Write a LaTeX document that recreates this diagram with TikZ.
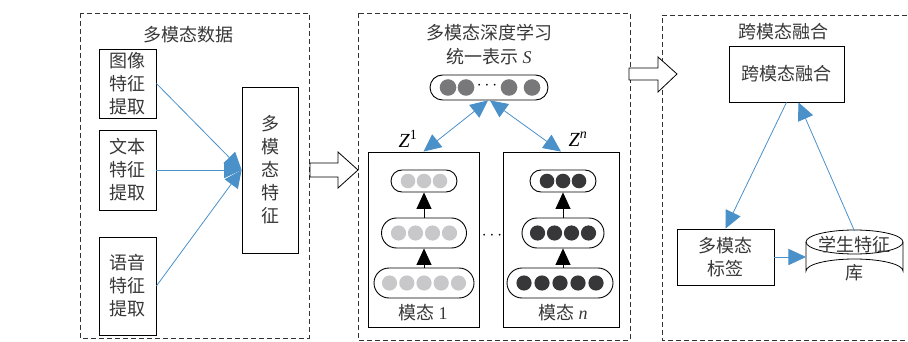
\documentclass[tikz,border=0pt]{standalone}
\usepackage{fontspec}
\setmainfont{Liberation Serif}
\newfontfamily\cjk{Noto Sans CJK SC}
\usetikzlibrary{arrows.meta,calc}
\definecolor{ablue}{RGB}{74,144,201}
\definecolor{txt}{RGB}{55,55,55}
\definecolor{cS}{RGB}{120,120,122}
\definecolor{cA}{RGB}{200,200,202}
\definecolor{cB}{RGB}{55,55,58}
\begin{document}
\begin{tikzpicture}[x=1pt,y=-1pt,
  dbox/.style={draw=black!80, dash pattern=on 5pt off 3pt, line width=0.8pt},
  box/.style={draw, line width=0.8pt, inner sep=0pt, align=center, text=txt,
    font=\cjk\fontsize{18}{23}\selectfont},
  ttl/.style={inner sep=0pt, text=txt, font=\cjk\fontsize{18}{22}\selectfont},
  pill/.style={draw, line width=0.9pt, inner sep=0pt},
  bhead/.tip={Triangle[length=13pt,width=12pt,scale=1.35]},
  khead/.tip={Triangle[length=11pt,width=10pt,scale=1.5]},
  barrow/.style={draw=ablue, line width=0.8pt, -bhead},
  bdarrow/.style={draw=ablue, line width=0.8pt, bhead-bhead},
  karrow/.style={draw, line width=0.8pt, -khead},
  hollow/.style={draw, line width=0.8pt, fill=white}
]
\useasboundingbox (0,0) rectangle (908,342);

% dashed frames
\draw[dbox] (80,13) rectangle (309,338);
\draw[dbox] (358,13) rectangle (630,340);
\draw[dbox] (915,15) -- (662,15) -- (662,340) -- (915,340);

% ---------- left panel ----------
\node[ttl] (t1) at (188,35) {多模态数据};
\node[box, minimum width=57, minimum height=69] (b1) at (127.5,83.5) {图像\\特征\\提取};
\node[box, minimum width=57, minimum height=80] (b2) at (127.5,170) {文本\\特征\\提取};
\node[box, minimum width=57, minimum height=98] (b3) at (127.5,286) {语音\\特征\\提取};
\node[box, minimum width=56, minimum height=166] (mf) at (270,170) {多\\模\\态\\特\\征};
\draw[barrow] (b1.east) -- (mf.west);
\draw[barrow] (b2.east) -- (mf.west);
\draw[barrow] (b3.east) -- (mf.west);

% hollow arrow 1
\draw[hollow] (310,163) -- (338,163) -- (338,152) -- (358,170) -- (338,188) -- (338,177) -- (310,177) -- cycle;

% ---------- middle panel ----------
\node[ttl] (t2) at (489,33) {多模态深度学习};
\node[ttl] (t3) at (489,57) {统一表示 {\rmfamily\itshape S}};
\node[pill, minimum width=118, minimum height=25, rounded corners=12.5] (sp) at (489,87.5) {};
\foreach \x in {448,466,509,532} \fill[cS] (\x,87.5) circle (8.3);
\node[inner sep=0pt, font=\fontsize{18}{20}\selectfont] (sdots) at (487,86) {$\cdots$};

\node[draw, line width=0.8pt, minimum width=111, minimum height=175] (m1) at (423.5,239.5) {};
\node[draw, line width=0.8pt, minimum width=116, minimum height=175] (mn) at (561,239.5) {};

\draw[bdarrow] ([xshift=-1pt]sp.south) -- (m1.north);
\draw[bdarrow] ([xshift=1pt]sp.south) -- (mn.north);
\node[inner sep=0pt, font=\fontsize{20}{22}\selectfont] (z1) at (408,139) {\itshape Z\textsuperscript{\upshape 1}};
\node[inner sep=0pt, font=\fontsize{20}{22}\selectfont] (zn) at (578,139) {\itshape Z\textsuperscript{n}};

% modality 1 stack
\node[pill, minimum width=66, minimum height=22, rounded corners=11] (a3) at (424,181) {};
\node[pill, minimum width=85, minimum height=30, rounded corners=15] (a2) at (424,233) {};
\node[pill, minimum width=100, minimum height=30, rounded corners=15] (a1) at (424,283) {};
\foreach \d in {-16,0,16} \fill[cA] (424+\d,181) circle (7.3);
\foreach \d in {-25.5,-8.5,8.5,25.5} \fill[cA] (424+\d,233) circle (7.6);
\foreach \d in {-34.5,-17.2,0,17.2,34.5} \fill[cA] (424+\d,283) circle (7.6);
\draw[karrow] (a1.north) -- (a2.south);
\draw[karrow] (a2.north) -- (a3.south);
\node[ttl] (l1) at (423,313) {模态 {\rmfamily 1}};

% modality n stack
\node[pill, minimum width=66, minimum height=22, rounded corners=11] (c3) at (563,181) {};
\node[pill, minimum width=82, minimum height=30, rounded corners=15] (c2) at (563,233) {};
\node[pill, minimum width=106, minimum height=30, rounded corners=15] (c1) at (560,283) {};
\foreach \d in {-16,0,16} \fill[cB] (563+\d,181) circle (7.3);
\foreach \d in {-25.5,-8.5,8.5,25.5} \fill[cB] (563+\d,233) circle (7.6);
\foreach \d in {-36,-18,0,18,36} \fill[cB] (560+\d,283) circle (7.6);
\draw[karrow] (c1.north -| c2.south) -- (c2.south);
\draw[karrow] (c2.north) -- (c3.south);
\node[ttl] (ln) at (563,313) {模态 {\rmfamily\itshape n}};

\node[inner sep=0pt, font=\fontsize{18}{20}\selectfont] (mdots) at (492,236) {$\cdots$};

% hollow arrow 2
\draw[hollow] (629,68) -- (658,68) -- (658,57) -- (677,74) -- (658,92) -- (658,80) -- (629,80) -- cycle;

% ---------- right panel ----------
\node[ttl] (t4) at (783,32) {跨模态融合};
\node[box, minimum width=115, minimum height=56] (fu) at (786.5,74) {跨模态融合};
\node[box, minimum width=97, minimum height=56] (lb) at (725.5,257) {多模态\\标签};

% cylinder
\draw[line width=0.8pt] (806,242) -- (806,271) arc[start angle=180, end angle=360, x radius=48.5, y radius=12] -- (903,242);
\draw[line width=0.8pt] (854.5,242) ellipse[x radius=48.5, y radius=12];
\node[inner sep=0pt, align=center, text=txt, font=\cjk\fontsize{18}{28}\selectfont] (db) at (854.5,259) {学生特征\\库};

\draw[barrow] (fu.south) -- (lb.north);
\draw[barrow] (854.5,231) -- ([xshift=12pt]fu.south);
\draw[barrow] (lb.east) -- (806,257);
\end{tikzpicture}
\end{document}
